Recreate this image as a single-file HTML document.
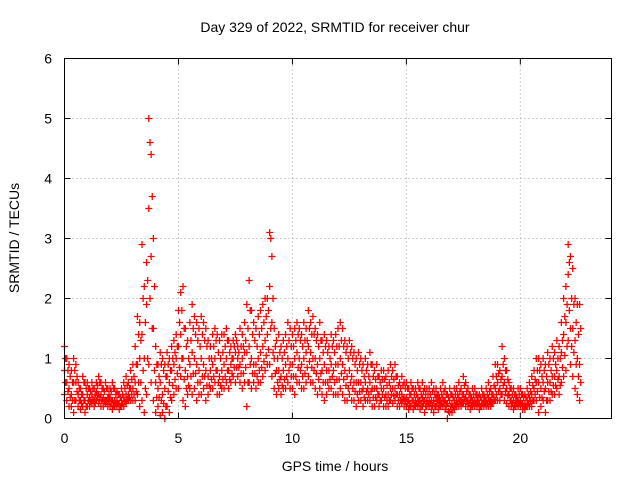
<!DOCTYPE html>
<html><head><meta charset="utf-8"><style>
body{margin:0;background:#fff;}
svg text{font-family:"Liberation Sans",sans-serif;font-size:14px;fill:#000;}
</style></head><body>
<svg id="chart" width="640" height="480">
<text x="335" y="32" text-anchor="middle">Day 329 of 2022, SRMTID for receiver chur</text>
<text x="335" y="471" text-anchor="middle">GPS time / hours</text>
<text transform="translate(19,238) rotate(-90)" text-anchor="middle">SRMTID / TECUs</text>
<g id="grid"></g><g id="ticks"></g><g id="marks"></g>
<rect x="64.5" y="58.5" width="547" height="360" fill="none" stroke="#000"/>
</svg>
<script>
const xTicks=[0,5,10,15,20];
const yTicks=[0,1,2,3,4,5,6];
const tStep=0.1;
const seriesHigh=[1.2,1.0,0.9,0.8,1.0,0.9,0.6,0.5,0.7,0.6, 0.6,0.5,0.6,0.5,0.6,0.7,0.6,0.5,0.6,0.5, 0.5,0.6,0.5,0.45,0.4,0.5,0.6,0.7,0.6,0.8, 0.9,1.2,1.7,1.6,2.9,2.2,2.6,5.0,4.4,3.0, 1.2,0.9,1.1,1.0,0.9,1.1,1.0,1.2,1.3,1.4, 1.8,2.1,2.2,1.5,1.3,1.6,1.9,1.7,1.6,1.5, 1.7,1.6,1.5,1.3,1.2,1.4,1.5,1.4,1.3,1.4, 1.4,1.5,1.3,1.2,1.3,1.4,1.2,1.5,1.4,1.6, 1.9,2.3,1.8,1.6,1.5,1.7,1.8,1.9,2.0,2.0, 3.1,2.7,1.5,1.3,1.4,1.2,1.3,1.4,1.6,1.5, 1.4,1.5,1.6,1.5,1.4,1.6,1.5,1.8,1.6,1.7, 1.5,1.4,1.6,1.3,1.4,1.3,1.2,1.4,1.3,1.4, 1.5,1.6,1.5,1.3,1.2,1.3,1.2,1.1,1.0,1.1, 1.0,0.9,1.0,0.9,1.1,0.9,0.8,0.9,0.7,0.8, 0.8,0.7,0.8,0.9,0.8,0.9,0.7,0.6,0.7,0.6, 0.6,0.5,0.6,0.5,0.5,0.6,0.5,0.6,0.5,0.5, 0.5,0.6,0.5,0.5,0.4,0.5,0.6,0.5,0.4,0.5, 0.4,0.5,0.5,0.6,0.5,0.7,0.6,0.5,0.4,0.5, 0.5,0.4,0.4,0.5,0.4,0.5,0.6,0.5,0.7,0.9, 0.9,0.8,1.2,1.0,0.8,0.6,0.5,0.5,0.4,0.5, 0.5,0.4,0.4,0.5,0.6,0.7,0.8,1.0,1.0,0.9, 1.0,0.9,1.1,1.0,1.2,1.1,1.3,1.2,1.6,2.0, 2.2,2.9,2.7,2.5,2.0,1.9,1.9];
const seriesUpper=[1.0,0.8,0.7,0.6,0.8,0.7,0.5,0.4,0.6,0.5, 0.5,0.45,0.5,0.4,0.55,0.6,0.5,0.45,0.5,0.4, 0.45,0.5,0.4,0.4,0.35,0.4,0.5,0.55,0.5,0.65, 0.7,0.9,1.4,1.3,2.0,1.6,2.3,4.6,3.7,2.2, 0.9,0.7,0.9,0.8,0.7,0.9,0.8,1.0,1.1,1.2, 1.6,1.8,1.5,1.2,1.0,1.3,1.5,1.4,1.3,1.2, 1.4,1.3,1.2,1.0,1.0,1.2,1.3,1.1,1.0,1.1, 1.2,1.3,1.1,1.0,1.2,1.3,1.1,1.2,1.2,1.3, 1.5,1.8,1.4,1.3,1.2,1.4,1.5,1.6,1.7,1.8, 3.0,2.0,1.2,1.0,1.1,1.0,1.1,1.2,1.3,1.2, 1.2,1.3,1.4,1.3,1.2,1.3,1.3,1.5,1.4,1.4, 1.3,1.2,1.3,1.1,1.2,1.1,1.0,1.2,1.1,1.2, 1.2,1.3,1.2,1.1,1.0,1.1,1.0,0.9,0.8,0.9, 0.8,0.7,0.8,0.7,0.9,0.7,0.65,0.7,0.6,0.65, 0.65,0.55,0.6,0.7,0.65,0.7,0.55,0.5,0.55,0.5, 0.5,0.4,0.5,0.4,0.4,0.5,0.4,0.45,0.4,0.4, 0.4,0.45,0.4,0.4,0.35,0.4,0.45,0.4,0.35,0.4, 0.35,0.4,0.4,0.45,0.4,0.55,0.45,0.4,0.35,0.4, 0.4,0.35,0.35,0.4,0.35,0.4,0.45,0.4,0.55,0.7, 0.75,0.65,0.9,0.8,0.65,0.5,0.4,0.4,0.35,0.4, 0.4,0.35,0.35,0.4,0.45,0.55,0.65,0.8,0.8,0.7, 0.8,0.7,0.9,0.8,1.0,0.9,1.0,1.0,1.3,1.7, 1.9,2.6,2.0,1.9,1.6,1.4,1.5];
const seriesMid=[0.8,0.6,0.5,0.4,0.6,0.6,0.4,0.3,0.4,0.3, 0.4,0.35,0.4,0.3,0.45,0.4,0.4,0.35,0.3,0.35, 0.35,0.3,0.3,0.3,0.25,0.3,0.35,0.4,0.4,0.5, 0.5,0.6,0.9,1.0,1.4,1.0,1.9,3.5,2.7,1.5, 0.6,0.5,0.6,0.4,0.5,0.7,0.6,0.8,0.9,1.0, 1.2,1.4,1.0,0.8,0.7,0.9,1.1,1.0,0.9,0.8, 1.0,0.9,0.8,0.7,0.8,0.9,1.0,0.8,0.7,0.8, 0.9,1.0,0.8,0.9,1.0,1.1,1.0,0.9,1.0,1.1, 1.1,1.2,1.0,0.9,0.9,1.0,1.1,1.2,1.3,1.4, 2.2,1.6,1.0,0.8,0.8,0.7,0.8,0.9,1.0,0.9, 0.9,1.0,1.1,1.0,0.9,1.0,1.1,1.2,1.1,1.0, 1.0,0.9,1.0,0.8,0.9,0.8,0.8,0.9,0.8,0.9, 0.9,1.0,0.9,0.8,0.7,0.8,0.7,0.6,0.6,0.6, 0.6,0.5,0.6,0.5,0.6,0.5,0.5,0.5,0.4,0.5, 0.5,0.4,0.4,0.5,0.5,0.5,0.4,0.4,0.4,0.35, 0.35,0.3,0.4,0.3,0.3,0.35,0.3,0.35,0.3,0.3, 0.3,0.3,0.3,0.35,0.3,0.3,0.35,0.3,0.25,0.3, 0.25,0.3,0.3,0.35,0.3,0.4,0.35,0.3,0.3,0.3, 0.3,0.3,0.25,0.3,0.3,0.3,0.35,0.3,0.4,0.5, 0.6,0.5,0.7,0.6,0.5,0.4,0.3,0.3,0.3,0.3, 0.3,0.25,0.25,0.3,0.35,0.4,0.5,0.6,0.6,0.5, 0.6,0.5,0.6,0.6,0.7,0.7,0.8,0.7,1.1,1.4, 1.6,2.4,1.5,1.5,1.3,1.0,0.9];
const seriesLower=[0.6,0.45,0.35,0.3,0.3,0.45,0.3,0.25,0.3,0.2, 0.3,0.28,0.32,0.25,0.38,0.32,0.3,0.28,0.28,0.28, 0.28,0.22,0.25,0.25,0.2,0.25,0.28,0.32,0.35,0.4, 0.4,0.45,0.6,0.6,0.8,0.5,1.0,2.0,1.5,0.8, 0.35,0.35,0.3,0.25,0.2,0.45,0.35,0.55,0.65,0.75, 0.85,1.0,0.65,0.5,0.55,0.7,0.75,0.75,0.6,0.6, 0.7,0.7,0.55,0.55,0.65,0.7,0.8,0.6,0.55,0.65, 0.7,0.8,0.65,0.75,0.85,0.85,0.85,0.75,0.75,0.85, 0.6,0.9,0.75,0.75,0.7,0.8,0.85,0.95,1.05,1.15, 1.5,1.1,0.75,0.6,0.65,0.55,0.65,0.7,0.8,0.7, 0.7,0.7,0.85,0.8,0.7,0.75,0.85,0.95,0.85,0.8, 0.75,0.65,0.75,0.6,0.6,0.6,0.65,0.7,0.6,0.65, 0.65,0.75,0.65,0.55,0.5,0.6,0.5,0.45,0.4,0.45, 0.45,0.35,0.45,0.4,0.45,0.35,0.35,0.4,0.3,0.4, 0.35,0.3,0.3,0.4,0.38,0.4,0.3,0.3,0.32,0.28, 0.28,0.22,0.3,0.22,0.25,0.28,0.22,0.28,0.2,0.25, 0.25,0.22,0.2,0.28,0.22,0.25,0.28,0.22,0.12,0.2, 0.18,0.22,0.25,0.28,0.25,0.32,0.28,0.25,0.22,0.25, 0.25,0.25,0.2,0.25,0.25,0.25,0.28,0.25,0.32,0.4, 0.45,0.4,0.55,0.45,0.38,0.3,0.25,0.22,0.25,0.25, 0.25,0.2,0.2,0.25,0.28,0.3,0.4,0.45,0.35,0.35, 0.45,0.3,0.45,0.45,0.55,0.55,0.65,0.55,0.85,1.05, 1.2,1.8,1.2,1.1,0.9,0.7,0.6];
const seriesLow=[0.4,0.3,0.2,0.2,0.1,0.3,0.2,0.15,0.2,0.1, 0.2,0.2,0.25,0.2,0.3,0.25,0.2,0.2,0.25,0.2, 0.2,0.15,0.2,0.2,0.15,0.2,0.2,0.25,0.3,0.3, 0.3,0.3,0.4,0.2,0.3,0.1,0.4,0.9,0.6,0.3, 0.1,0.2,0.05,0.1,0.0,0.2,0.1,0.3,0.4,0.5, 0.5,0.7,0.3,0.2,0.4,0.5,0.4,0.5,0.3,0.4, 0.4,0.5,0.3,0.4,0.5,0.5,0.6,0.4,0.4,0.5, 0.5,0.6,0.5,0.6,0.7,0.6,0.7,0.6,0.5,0.6, 0.2,0.6,0.5,0.6,0.5,0.6,0.6,0.7,0.8,0.9, 0.9,0.7,0.5,0.4,0.5,0.4,0.5,0.5,0.6,0.5, 0.5,0.4,0.6,0.6,0.5,0.5,0.6,0.7,0.6,0.6, 0.5,0.4,0.5,0.4,0.3,0.4,0.5,0.5,0.4,0.4, 0.4,0.5,0.4,0.3,0.3,0.4,0.3,0.3,0.2,0.3, 0.3,0.2,0.3,0.3,0.3,0.2,0.2,0.3,0.2,0.3, 0.2,0.2,0.2,0.3,0.25,0.3,0.2,0.2,0.25,0.2, 0.2,0.15,0.2,0.15,0.2,0.2,0.15,0.2,0.1,0.2, 0.2,0.15,0.1,0.2,0.15,0.2,0.2,0.15,0.0,0.1, 0.1,0.15,0.2,0.2,0.2,0.25,0.2,0.2,0.15,0.2, 0.2,0.2,0.15,0.2,0.2,0.2,0.2,0.2,0.25,0.3, 0.3,0.3,0.4,0.3,0.25,0.2,0.2,0.15,0.2,0.2, 0.2,0.15,0.15,0.2,0.2,0.2,0.3,0.3,0.1,0.2, 0.3,0.1,0.3,0.3,0.4,0.4,0.5,0.4,0.6,0.7, 0.8,1.3,0.9,0.7,0.5,0.4,0.3];
const NS='http://www.w3.org/2000/svg';
const X0=64.5,X1=611.5,Y0=418.5,Y1=58.5;
function xs(t){return X0+(t/24)*(X1-X0);}
function ys(v){return Y0-(v/6)*(Y0-Y1);}
function mk(tag,attrs,parent){const e=document.createElementNS(NS,tag);for(const k in attrs)e.setAttribute(k,attrs[k]);parent.appendChild(e);return e;}
const grid=document.getElementById('grid'),ticks=document.getElementById('ticks'),marks=document.getElementById('marks');
xTicks.forEach(t=>{
  const x=xs(t);
  if(t>0){const g=mk('line',{x1:x,x2:x,y1:Y0,y2:Y1,stroke:'#a0a0a0','stroke-dasharray':'1,3'},grid);
  
  }
  mk('line',{x1:x,x2:x,y1:Y0,y2:Y0-6,stroke:'#000'},ticks);
  mk('line',{x1:x,x2:x,y1:Y1,y2:Y1+6,stroke:'#000'},ticks);
  const l=mk('text',{x:x,y:443,'text-anchor':'middle'},ticks);l.textContent=t;
  
  
});
yTicks.forEach(v=>{
  const y=ys(v);
  if(v>0&&v<6){const g=mk('line',{x1:X0,x2:X1,y1:y,y2:y,stroke:'#a0a0a0','stroke-dasharray':'1,3'},grid);
  
  }
  mk('line',{x1:X0,x2:X0+6,y1:y,y2:y,stroke:'#000'},ticks);
  mk('line',{x1:X1,x2:X1-6,y1:y,y2:y,stroke:'#000'},ticks);
  const l=mk('text',{x:52,y:y+5,'text-anchor':'end'},ticks);l.textContent=v;
  
  
});
const allSeries=[[seriesLow,0],[seriesMid,0],[seriesHigh,0],[seriesLower,0.05],[seriesUpper,0.05]];
allSeries.forEach(([arr,off])=>{
  arr.forEach((v,i)=>{
    const x=xs(i*tStep+off),y=ys(v);
    const p=mk('path',{d:`M${x-3.5},${y}h7M${x},${y-3.5}v7`,stroke:'#ff0000','stroke-width':1.3,fill:'none'},marks);
    
    
  });
});
</script>
</body></html>
